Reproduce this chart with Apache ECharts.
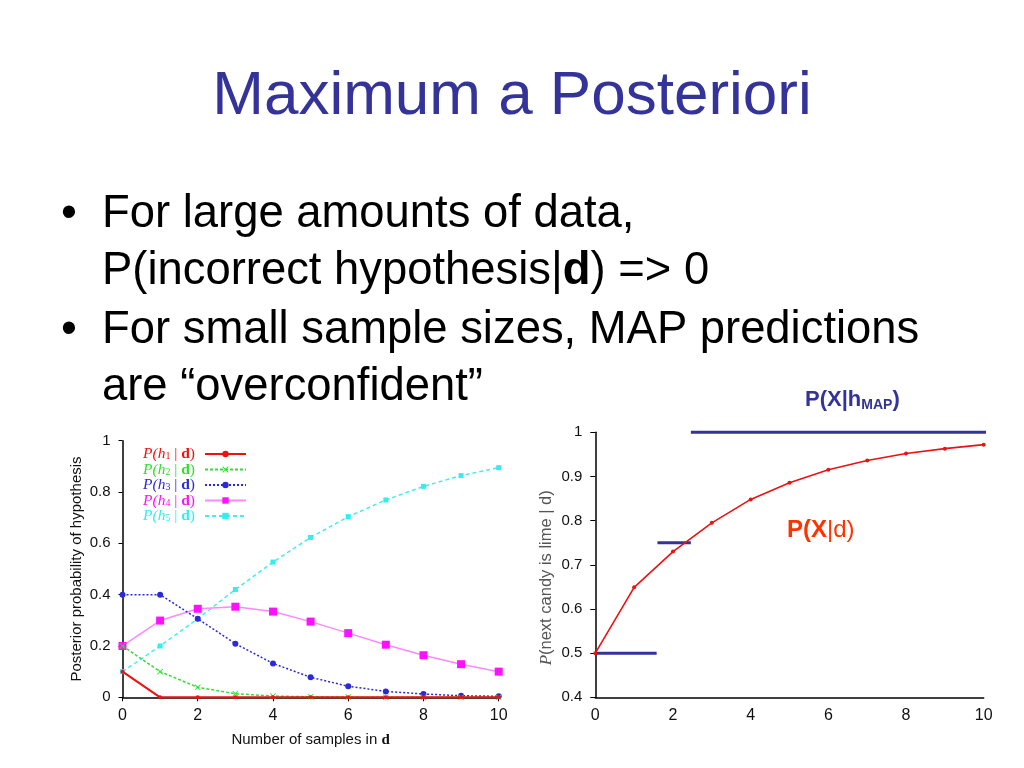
<!DOCTYPE html>
<html><head><meta charset="utf-8">
<script src="https://cdn.jsdelivr.net/npm/echarts@6/dist/echarts.min.js"></script>
<style>html,body{margin:0;padding:0;background:#fff}#c{width:1024px;height:768px}</style>
</head><body><div id="c"></div>
<script>
// ---- data ----
const samples = [0,1,2,3,4,5,6,7,8,9,10];
const hypNames = ['h1','h2','h3','h4','h5'];
const h1 = [0.1,0,0,0,0,0,0,0,0,0,0];
const h2 = [0.2,0.1,0.039,0.014,0.005,0.002,0.001,0,0,0,0];
const h3 = [0.4,0.4,0.306,0.209,0.132,0.078,0.043,0.023,0.013,0.006,0.004];
const h4 = [0.2,0.299,0.345,0.353,0.334,0.295,0.25,0.205,0.164,0.129,0.1];
const h5 = [0.1,0.2,0.306,0.42,0.527,0.623,0.704,0.769,0.822,0.864,0.895];
const predLime = [0.5,0.649,0.730,0.795,0.848,0.886,0.915,0.936,0.952,0.963,0.972];
const mapSegments = [
  [[0,0.5],[1.58,0.5]],
  [[1.6,0.75],[2.46,0.75]],
  [[2.46,1],[10.15,1]]
];
const titleText = 'Maximum a Posteriori';
const bulletLines = [
  '{n|For large amounts of data,}',
  '{n|P(incorrect hypothesis|}{b|d}{n|) => 0}',
  '{n|For small sample sizes, MAP predictions}',
  '{n|are \u201coverconfident\u201d}'
];

// ---- styles ----
const hypData = [h1,h2,h3,h4,h5];
const hypColors = ['#ee1111','#33dd33','#2a2ad8','#ff11ff','#33eeee'];
const hypLineColors = ['#ee1111','#33dd33','#2a2ad8','#ff88ff','#44eeee'];
const hypLineTypes = ['solid',[3,2],[2,2],'solid',[4,3]];
const hypLineWidths = [2,1.5,1.5,1.5,1.5];
const crossPath = 'path://M1,0L5,4L9,0L10,1L6,5L10,9L9,10L5,6L1,10L0,9L4,5L0,1Z';
const hypSymbols = ['circle', crossPath, 'circle', 'rect', 'rect'];
const hypSymbolSizes = [4,6,6,8,5];
const sans = '"Liberation Sans", Arial, sans-serif';
const serif = '"Liberation Serif", "Times New Roman", serif';
const bodyFont = 45.4;

const chart = echarts.init(document.getElementById('c'), null, {renderer:'canvas'});

const leftSeries = hypNames.map((n,i)=>({
  name: n, type:'line', xAxisIndex:0, yAxisIndex:0,
  data: samples.map((x,k)=>[x, hypData[i][k]]),
  symbol: hypSymbols[i], symbolSize: hypSymbolSizes[i], showSymbol:true,
  itemStyle:{color: hypColors[i]},
  lineStyle:{color: hypLineColors[i], width: hypLineWidths[i], type: hypLineTypes[i]},
  z: 10 - i, clip:false
}));

const rightSeries = [{
  name:'pred', type:'line', xAxisIndex:1, yAxisIndex:1,
  data: samples.map((x,k)=>[x, predLime[k]]),
  symbol:'circle', symbolSize:4, itemStyle:{color:'#ee1111'},
  lineStyle:{color:'#ee1111', width:1.6}, z:5, clip:false
}].concat(mapSegments.map((seg,i)=>({
  name:'map'+i, type:'line', xAxisIndex:1, yAxisIndex:1,
  data: seg, symbol:'none', lineStyle:{color:'#333399', width:3}, z:4, clip:false
})));

const axisCommon = {
  axisLine:{show:true, lineStyle:{color:'#000', width:1.5}},
  splitLine:{show:false}
};

const option = {
  animation:false,
  backgroundColor:'#fff',
  grid:[
    {left:122.5, top:440.7, width:376.2, height:256.6},
    {left:595.3, top:432.3, width:388.4, height:265}
  ],
  xAxis:[
    Object.assign({}, axisCommon, {
      gridIndex:0, type:'value', min:0, max:10, interval:2,
      axisTick:{show:true, length:4, inside:false, lineStyle:{color:'#000'}},
      axisLabel:{color:'#111', fontSize:16, fontFamily:sans, margin:10},
      name:'{n|Number of samples in }{b|d}', nameLocation:'middle', nameGap:35,
      nameTextStyle:{color:'#111', rich:{n:{fontSize:15, fontFamily:sans, color:'#111'}, b:{fontSize:15, fontFamily:serif, fontWeight:'bold', color:'#111'}}}
    }),
    Object.assign({}, axisCommon, {
      gridIndex:1, type:'value', min:0, max:10, interval:2,
      axisTick:{show:false},
      axisLabel:{color:'#111', fontSize:16, fontFamily:sans, margin:10}
    })
  ],
  yAxis:[
    Object.assign({}, axisCommon, {
      gridIndex:0, type:'value', min:0, max:1, interval:0.2,
      axisTick:{show:true, length:4, lineStyle:{color:'#000'}},
      axisLabel:{color:'#111', fontSize:15, fontFamily:sans, margin:12},
      name:'Posterior probability of hypothesis', nameLocation:'middle', nameGap:38,
      nameTextStyle:{color:'#111', fontSize:15, fontFamily:sans}
    }),
    Object.assign({}, axisCommon, {
      gridIndex:1, type:'value', min:0.4, max:1, interval:0.1,
      axisTick:{show:true, length:5, lineStyle:{color:'#000'}},
      axisLabel:{color:'#111', fontSize:15, fontFamily:sans, margin:13},
      name:'{i|P}{n|(next candy is lime | d)}', nameLocation:'middle', nameGap:40,
      nameTextStyle:{color:'#555', padding:[0,26,0,0], rich:{i:{fontStyle:'italic', fontFamily:serif, fontSize:17, color:'#555'}, n:{fontFamily:sans, fontSize:16.5, color:'#555'}}}
    })
  ],
  legend:{
    orient:'vertical', left:143, top:446, align:'right', padding:0,
    itemWidth:41, itemHeight:8, itemGap:-0.5,
    data: hypNames.map((n,i)=>({name:n, textStyle:{color:hypColors[i]}})),
    formatter: n => '{i|P(h}{s|' + n.slice(1) + '}{n| | }{b|d}{n|)}',
    textStyle:{fontFamily:serif, fontSize:15.5, lineHeight:14, padding:[0,5,0,0],
      rich:{
        i:{fontStyle:'italic', fontFamily:serif, fontSize:15.5, lineHeight:14},
        s:{fontFamily:serif, fontSize:10, lineHeight:9, padding:[5,0,0,0]},
        n:{fontFamily:serif, fontSize:15.5, lineHeight:14},
        b:{fontFamily:serif, fontSize:15.5, lineHeight:14, fontWeight:'bold'}
      }
    },
    selectedMode:false
  },
  graphic:[
    {type:'text', x:512, y:96.5, style:{text:titleText, fill:'#333399', font:'62px ' + sans, align:'center', verticalAlign:'middle'}},
  ].concat(bulletLines.map((t,i)=>({
    type:'text', x:102, y:[214,271,330,387][i],
    style:{text:t, align:'left', verticalAlign:'middle', fill:'#000',
      rich:{n:{fontSize:bodyFont, fontFamily:sans, fill:'#000'}, b:{fontSize:bodyFont, fontFamily:sans, fontWeight:'bold', fill:'#000'}}}
  }))).concat([
    {type:'text', x:61, y:214, style:{text:'\u2022', font:bodyFont + 'px ' + sans, fill:'#000', align:'left', verticalAlign:'middle'}},
    {type:'text', x:61, y:330, style:{text:'\u2022', font:bodyFont + 'px ' + sans, fill:'#000', align:'left', verticalAlign:'middle'}},
    {type:'text', x:805, y:399.5, style:{text:'{b|P(X|h}{s|MAP}{b|)}', align:'left', verticalAlign:'middle',
      rich:{b:{fontSize:22, fontFamily:sans, fontWeight:'bold', fill:'#333399'}, s:{fontSize:14, fontFamily:sans, fontWeight:'bold', fill:'#333399', padding:[11,0,0,0]}}}},
    {type:'text', x:787, y:530, style:{text:'{b|P(X}{n||d)}', align:'left', verticalAlign:'middle',
      rich:{b:{fontSize:24, fontFamily:sans, fontWeight:'bold', fill:'#ff3300'}, n:{fontSize:24, fontFamily:sans, fill:'#ff3300'}}}}
  ]),
  series: leftSeries.concat(rightSeries)
};
chart.setOption(option);
</script>
</body></html>
